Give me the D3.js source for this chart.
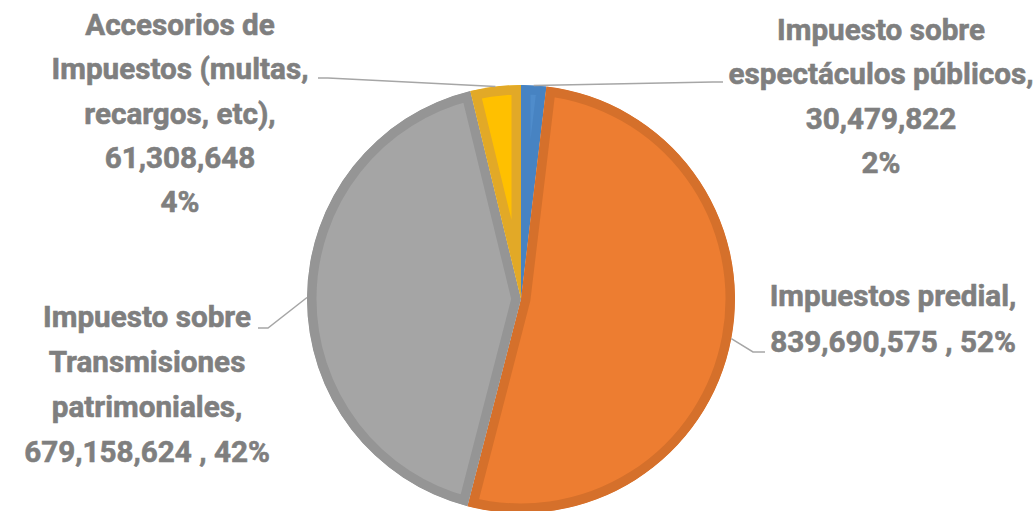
<!DOCTYPE html>
<html>
<head>
<meta charset="utf-8">
<script src="https://cdn.jsdelivr.net/npm/d3@7"></script>
<style>
  body { margin: 0; background: #fff; }
  svg text { font-family: Roboto, "Open Sans", sans-serif; font-weight: 700; fill: #7f7f7f; stroke: #7f7f7f; stroke-width: 0.6px; }
</style>
</head>
<body>
<div id="chart"></div>
<script>
const categories = [
  'Impuesto sobre espectáculos públicos',
  'Impuestos predial',
  'Impuesto sobre Transmisiones patrimoniales',
  'Accesorios de Impuestos (multas, recargos, etc)'
];
const values = [30479822, 839690575, 679158624, 61308648];
const fills = ['#4f8ccb', '#ed7d31', '#a5a5a5', '#ffc000'];
const borders = ['#4783c2', '#d5702b', '#959595', '#e2a927'];

// how each label is broken into lines (name parts; number and percent appended)
const labelLines = [
  ['Impuesto sobre', 'espectáculos públicos,', '{v}', '{p}'],
  ['Impuestos predial,', '{v} , {p}'],
  ['Impuesto sobre', 'Transmisiones', 'patrimoniales,', '{v} , {p}'],
  ['Accesorios de', 'Impuestos (multas,', 'recargos, etc),', '{v}', '{p}']
];

const w = 1034;
const h = 511;
const cx = 521;
const cy = 299;
const r = 214;

// label layout: centre x, first baseline, line step, leader points (label side)
const labelPos = [
  { x: 881, y: 40, step: 44.3, lead: [[713, 82], [723, 82]] },
  { x: 893, y: 306, step: 46, lead: [[753, 352], [765, 352]] },
  { x: 147, y: 327, step: 45, lead: [[268, 328], [258, 328]] },
  { x: 180, y: 35, step: 44.3, lead: [[328, 78], [318, 78]] }
];

const total = d3.sum(values);
const fmtNum = d3.format(',');
const fmtPct = d => Math.round(d * 100) + '%';

const svg = d3.select('#chart')
  .append('svg')
    .attr('width', w)
    .attr('height', h);

const pie = d3.pie().sort(null).value(d => d);
const arcs = pie(values);

const arc = d3.arc().innerRadius(0).outerRadius(r);
const edge = d3.arc().innerRadius(r).outerRadius(r);

const g = svg.append('g').attr('transform', `translate(${cx}, ${cy})`);

const defs = svg.append('defs');
arcs.forEach((a, i) => {
  defs.append('clipPath')
      .attr('id', 'clip' + i)
    .append('path')
      .attr('d', arc(a));
});

// slice fill with a darker band inside its outline
g.selectAll('.slice')
  .data(arcs)
  .enter()
  .append('path')
    .attr('class', 'slice')
    .attr('d', arc)
    .attr('fill', (d, i) => fills[i])
    .attr('stroke', (d, i) => borders[i])
    .attr('stroke-width', 19)
    .attr('stroke-linejoin', 'miter')
    .attr('clip-path', (d, i) => `url(#clip${i})`);

// leader lines
arcs.forEach((a, i) => {
  const c = edge.centroid(a);
  const pts = [[cx + c[0], cy + c[1]]].concat(labelPos[i].lead);
  svg.append('path')
    .attr('d', d3.line()(pts))
    .attr('fill', 'none')
    .attr('stroke', '#a6a6a6')
    .attr('stroke-width', 1.5);
});

// labels
const fontSize = 30;
const labels = svg.selectAll('.label')
  .data(labelLines)
  .enter()
  .append('g')
    .attr('class', 'label');

labels.each(function (lines, i) {
  const lg = d3.select(this);
  const txt = lg.append('text')
    .attr('text-anchor', 'middle')
    .style('font-size', fontSize + 'px');
  lines.forEach((ln, j) => {
    const s = ln.replace('{v}', fmtNum(values[i])).replace('{p}', fmtPct(values[i] / total));
    txt.append('tspan')
      .attr('x', 0)
      .attr('y', j * labelPos[i].step)
      .text(s);
  });
});

// condense the font to match the reference width of the widest line
const probe = svg.append('text').style('font-size', fontSize + 'px').text('espectáculos públicos,');
const sx = 305 / probe.node().getComputedTextLength();
probe.remove();

labels.attr('transform', (d, i) => `translate(${labelPos[i].x}, ${labelPos[i].y}) scale(${sx}, 1)`);
</script>
</body>
</html>
